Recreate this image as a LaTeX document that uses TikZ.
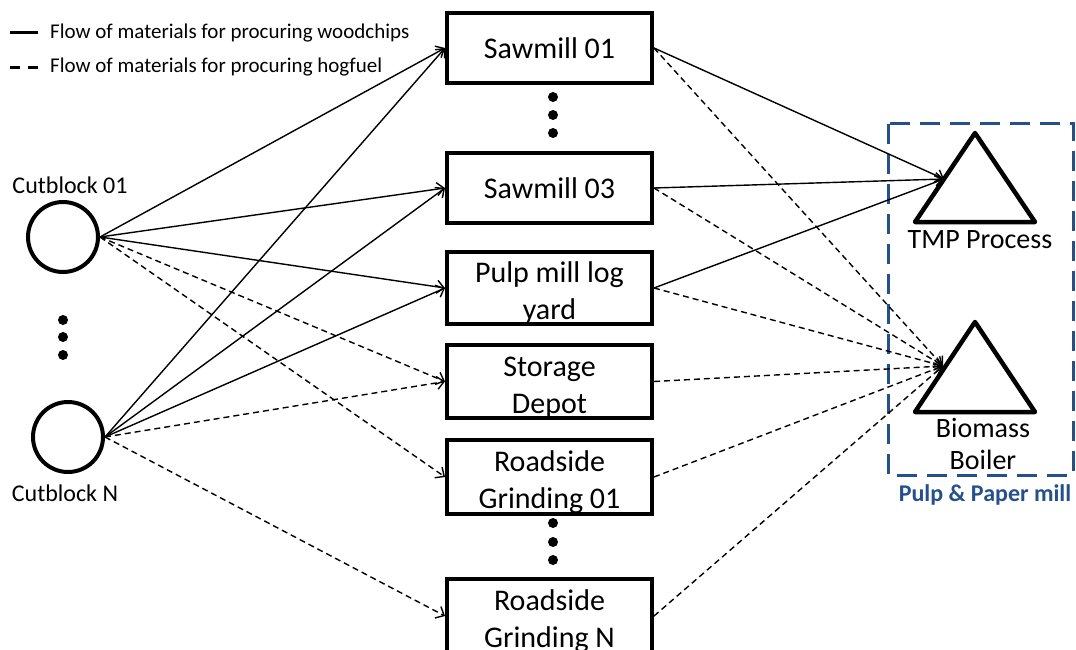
\documentclass[tikz,border=0pt]{standalone}
\usepackage{fontspec}
\setmainfont{Carlito}
\usetikzlibrary{arrows.meta}
\definecolor{millblue}{RGB}{37,80,140}
\newcommand{\toppad}{\rule{0pt}{31pt}}
\begin{document}
\begin{tikzpicture}[x=1pt,y=-1pt,
  site/.style={draw, line width=4pt, minimum width=205pt, minimum height=70pt,
    inner sep=0pt, align=center, font=\fontsize{30}{37}\selectfont},
  block/.style={draw, circle, line width=4pt, minimum size=70pt, inner sep=0pt},
  chips/.style={line width=1.4pt, -{Straight Barb[length=7pt,width=13pt]}},
  hog/.style={chips, dash pattern=on 6pt off 4pt},
  dot/.style={circle, fill, inner sep=0pt, minimum size=10pt},
  lbl/.style={inner sep=0pt, font=\fontsize{24}{28}\selectfont},
  big/.style={inner sep=0pt, align=center, font=\fontsize{28}{32}\selectfont},
  legend/.style={inner sep=0pt, anchor=west, font=\fontsize{21}{24}\selectfont},
  facility/.style={line width=4.5pt, line join=round}
]
\useasboundingbox (0,0) rectangle (1076,650);

% legend
\coordinate (la1) at (10,33);
\coordinate (lb1) at (38,33);
\coordinate (la2) at (10,68);
\coordinate (lb2) at (38,68);
\draw[line width=3pt] (la1) -- (lb1);
\draw[line width=3pt, dash pattern=on 10pt off 8pt] (la2) -- (lb2);
\node[legend] (lt1) at (50,33) {Flow of materials for procuring woodchips};
\node[legend] (lt2) at (50,67) {Flow of materials for procuring hogfuel};

% cutblocks
\node[block] (c1) at (63,237) {};
\node[block] (cn) at (68,437) {};
\node[lbl] (c1l) at (70,185) {Cutblock 01};
\node[lbl] (cnl) at (65,493) {Cutblock N};
\node[dot] (d1) at (63,320) {};
\node[dot] (d2) at (63,337) {};
\node[dot] (d3) at (63,355) {};

% intermediate sites
\node[site] (s1) at (549.5,48) {Sawmill 01};
\node[site] (s3) at (549.5,188) {Sawmill 03};
\node[site] (py) at (549.5,288) {\toppad Pulp mill log\\yard};
\node[site] (sd) at (549.5,381.5) {\toppad Storage\\Depot};
\node[site] (r1) at (549.5,477) {\toppad Roadside\\Grinding 01};
\node[site] (rn) at (549.5,616) {\toppad Roadside\\Grinding N};
\node[dot] (e1) at (553,97) {};
\node[dot] (e2) at (553,115) {};
\node[dot] (e3) at (553,133) {};
\node[dot] (f1) at (553,523) {};
\node[dot] (f2) at (553,542) {};
\node[dot] (f3) at (553,560) {};

% pulp & paper mill
\draw[millblue, line width=3pt, dash pattern=on 20pt off 10pt] (888,124) rectangle (1073,475);
\node[inner sep=0pt, text=millblue, font=\bfseries\fontsize{24}{27}\selectfont] (ppm) at (985,495) {Pulp \& Paper mill};
\draw[facility] (975,133) -- (1035,222) -- (915,222) -- cycle;
\draw[facility] (975,322) -- (1035,412) -- (915,412) -- cycle;
\coordinate (tmp) at (944,179);
\coordinate (boiler) at (943,366);
\node[big] (tmpl) at (980,240) {TMP Process};
\node[big] (boil) at (983,444) {Biomass\\Boiler};

% woodchip flows
\draw[chips] (c1.east) -- (s1.west);
\draw[chips] (c1.east) -- (s3.west);
\draw[chips] (c1.east) -- (py.west);
\draw[chips] (cn.east) -- (s1.west);
\draw[chips] (cn.east) -- (s3.west);
\draw[chips] (cn.east) -- (py.west);
\draw[chips] (s1.east) -- (tmp);
\draw[chips] (s3.east) -- (tmp);
\draw[chips] (py.east) -- (tmp);

% hogfuel flows
\draw[hog] (c1.east) -- (sd.west);
\draw[hog] (c1.east) -- (r1.west);
\draw[hog] (cn.east) -- (sd.west);
\draw[hog] (cn.east) -- (rn.west);
\draw[hog] (s1.east) -- (boiler);
\draw[hog] (s3.east) -- (boiler);
\draw[hog] (py.east) -- (boiler);
\draw[hog] (sd.east) -- (boiler);
\draw[hog] (r1.east) -- (boiler);
\draw[hog] (rn.east) -- (boiler);
\end{tikzpicture}
\end{document}
